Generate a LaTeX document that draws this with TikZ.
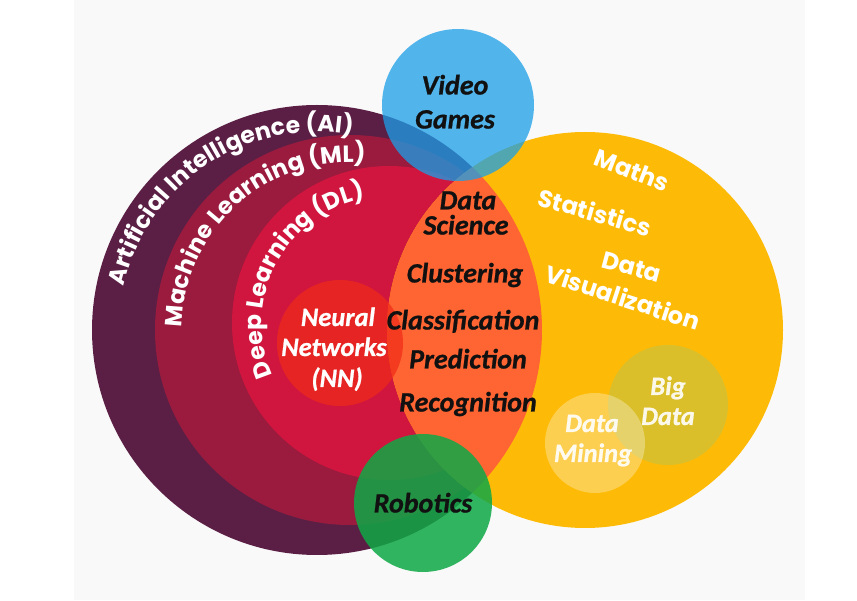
\documentclass[tikz,border=0pt]{standalone}
\usepackage{fontspec}
\setmainfont{Carlito}[BoldItalicFeatures={FakeBold=0.8}]
\newfontfamily\pop{Poppins}
\usetikzlibrary{decorations.text}
\definecolor{panelcol}{HTML}{F9F9F9}
\definecolor{aicol}{HTML}{5B1F45}
\definecolor{mlcol}{HTML}{9A1B3E}
\definecolor{dlcol}{HTML}{D0163E}
\definecolor{nncol}{HTML}{F02A18}
\definecolor{orcol}{HTML}{FE6532}
\definecolor{yecol}{HTML}{FDBB07}
\definecolor{bluecol}{HTML}{1A9FE8}
\definecolor{greencol}{HTML}{0FA846}
\definecolor{bigcol}{HTML}{DBBF2A}
\definecolor{inkcol}{HTML}{111111}
\tikzset{
  blk/.style={font=\bfseries\itshape\fontsize{28}{28}\selectfont, text=inkcol, inner sep=0pt, text height=18pt, text depth=5pt},
  wht/.style={font=\bfseries\itshape\fontsize{26.5}{26.5}\selectfont, text=white, inner sep=0pt, text height=17pt, text depth=5pt},
  pale/.style={wht, text opacity=0.9},
  poptxt/.style={font=\pop\bfseries\fontsize{24}{24}\selectfont, text=white, inner sep=0pt},
  arctext/.style={decorate, decoration={text along path, text align=center, text={|\pop\bfseries\fontsize{23.5}{23.5}\selectfont\color{white}|#1}}}
}
\begin{document}
\begin{tikzpicture}[x=1pt,y=1pt]
\useasboundingbox (0,0) rectangle (857,600);
\fill[white] (0,0) rectangle (857,600);
\fill[panelcol] (74,0) rectangle (805,600);
% main discs
\fill[aicol] (317,270) circle (225);
\fill[mlcol] (350,270) circle (195);
\fill[dlcol] (389,277) circle (157);
\fill[yecol] (585,270) circle (198);
\begin{scope}
  \clip (317,270) circle (225);
  \fill[orcol] (585,270) circle (198);
\end{scope}
\fill[nncol, opacity=0.7] (340,257) circle (63);
\fill[bigcol] (668,195) circle (60);
\fill[white, opacity=0.3] (595,157) circle (50);
\fill[bluecol, opacity=0.75] (458,495) circle (76);
\fill[greencol, opacity=0.85] (423,97) circle (69);
% curved labels
\path[arctext={Artificial Intelligence (AI)}] (317,270) ++(183.5:198) arc[start angle=183.5, end angle=63.5, radius=198];
\path[arctext={Machine Learning (ML)}] (350,270) ++(192:168) arc[start angle=192, end angle=72, radius=168];
\path[arctext={Deep Learning (DL)}] (389,277) ++(216:127) arc[start angle=216, end angle=89, radius=127];
% labels
\node[blk] (vg1) at (455,512) {Video};
\node[blk] (vg2) at (455,478) {Games};
\node[blk] (ds1) at (468,397) {Data};
\node[blk] (ds2) at (466,372) {Science};
\node[blk] (clu) at (465,324) {Clustering};
\node[blk] (cla) at (463,277) {Classification};
\node[blk] (pre) at (468,238) {Prediction};
\node[blk] (rec) at (468,195) {Recognition};
\node[blk] (rob) at (423,94) {Robotics};
\node[wht] (nn1) at (338,280) {Neural};
\node[wht] (nn2) at (334,250) {Networks};
\node[wht] (nn3) at (337,219) {(NN)};
\node[pale] (bd1) at (668,211) {Big};
\node[pale] (bd2) at (668,181) {Data};
\node[pale] (dm1) at (592,174) {Data};
\node[pale] (dm2) at (593,144) {Mining};
\node[poptxt, rotate=-21] (mat) at (632,430) {Maths};
\node[poptxt, rotate=-16] (sta) at (595,388) {Statistics};
\node[poptxt, rotate=-15] (dv1) at (632,333) {Data};
\node[poptxt, rotate=-18] (dv2) at (623,303) {Visualization};
\end{tikzpicture}
\end{document}
